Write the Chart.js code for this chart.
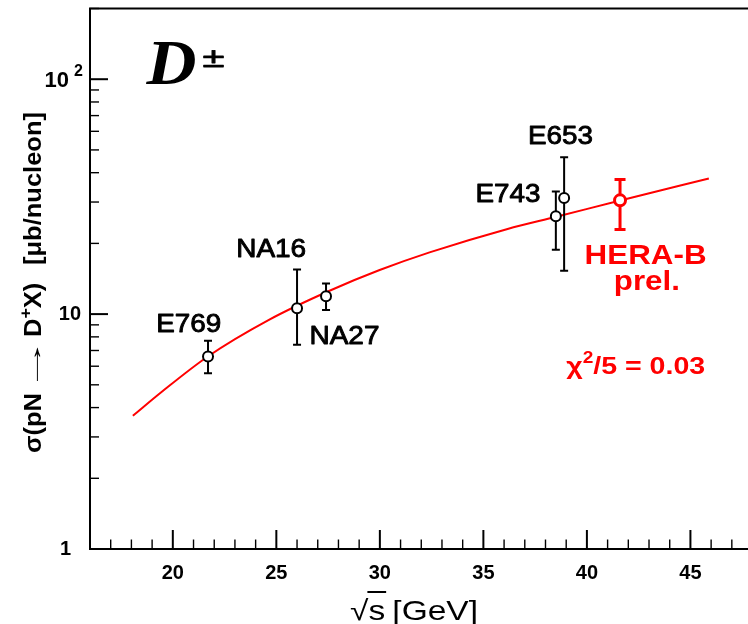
<!DOCTYPE html>
<html>
<head>
<meta charset="utf-8">
<script src="https://cdn.jsdelivr.net/npm/chart.js@4/dist/chart.umd.min.js"></script>
<style>
  html, body { margin: 0; padding: 0; background: #fff; overflow: hidden; }
  #wrap { width: 760px; height: 624px; }
</style>
</head>
<body>
<div id="wrap"><canvas id="c" width="760" height="624"></canvas></div>
<script>
// D+- production cross section in pN collisions vs sqrt(s)
const experiments = ['E769', 'NA16', 'NA27', 'E743', 'E653', 'HERA-B'];
const sqrtS      = [21.7, 26.0, 27.4, 38.5, 38.9, 41.6];   // GeV
const sigma      = [6.6, 10.6, 11.9, 26.1, 31.2, 30.5];    // microbarn / nucleon
const sigmaLow   = [5.6, 7.4, 10.4, 18.8, 15.3, 22.9];
const sigmaHigh  = [7.7, 15.5, 13.5, 33.3, 46.5, 37.4];

// QCD prediction (red curve)
const curveS     = [18.07, 19.47, 21.69, 24.62, 27.57, 29.99, 32.40, 36.17, 38.52, 41.61, 45.89];
const curveSigma = [3.69, 4.67, 6.60, 9.43, 12.57, 15.40, 18.31, 23.05, 25.97, 30.46, 37.79];

// axis ticks
const xMajorTicks = [20, 25, 30, 35, 40, 45];
const yTickValues = [1, 2, 3, 4, 5, 6, 7, 8, 9, 10, 20, 30, 40, 50, 60, 70, 80, 90, 100, 200];
const yMajorTicks = [1, 10, 100];
const yTickLabels = ['1', '10', '10'];
const yTickExponents = ['', '', '2'];

const FONT = "'Liberation Sans', Arial, Helvetica, sans-serif";
const SERIF = "'Liberation Serif', 'Times New Roman', serif";
const RED = '#ff0000';

// text annotations, anchored at (left, baseline) in data coordinates
const labelLayout = {
  'E769':   { x: 19.20, y: 8.37,  w: 65,  font: `26px ${FONT}`, weight: 0.9 },
  'NA16':   { x: 23.06, y: 17.49, w: 70,  font: `26px ${FONT}`, weight: 0.9 },
  'NA27':   { x: 26.60, y: 7.49,  w: 70,  font: `26px ${FONT}`, weight: 0.9 },
  'E743':   { x: 34.62, y: 29.97, w: 65,  font: `26px ${FONT}`, weight: 0.9 },
  'E653':   { x: 37.15, y: 53.2,  w: 65,  font: `26px ${FONT}`, weight: 0.9 },
  'HERA-B': { x: 39.89, y: 16.4,  w: 122, font: `bold 28px ${FONT}`, color: RED }
};

function pieceAdvance(ctx, p) {
  ctx.font = p.font;
  return ctx.measureText(p.t).width * (p.sx || 1) + (p.gap || 0);
}

// draw a run of text pieces starting at (x, y) on the baseline, optionally stretched to a width
function drawPieces(ctx, pieces, x, y, color, width, angle, weight) {
  const natural = pieces.reduce((s, p) => s + pieceAdvance(ctx, p), 0);
  const sx = width ? width / natural : 1;
  ctx.save();
  ctx.translate(x, y);
  if (angle) ctx.rotate(angle);
  ctx.scale(sx, 1);
  ctx.fillStyle = color;
  ctx.strokeStyle = color;
  ctx.lineJoin = 'round';
  ctx.textAlign = 'left';
  ctx.textBaseline = 'alphabetic';
  let cx = 0;
  const ext = [];
  for (const p of pieces) {
    ctx.font = p.font;
    const w = ctx.measureText(p.t).width * (p.sx || 1);
    ctx.save();
    ctx.translate(cx, p.dy || 0);
    ctx.scale(p.sx || 1, 1);
    ctx.fillText(p.t, 0, 0);
    if (weight) { ctx.lineWidth = weight; ctx.strokeText(p.t, 0, 0); }
    ctx.restore();
    ext.push([cx * sx, (cx + w) * sx]);
    cx += w + (p.gap || 0);
  }
  ctx.restore();
  return ext;
}

function drawErrorBars(chart) {
  const { ctx, scales: { x, y } } = chart;
  ctx.save();
  sqrtS.forEach((s, i) => {
    const red = experiments[i] === 'HERA-B';
    const px = x.getPixelForValue(s);
    const top = y.getPixelForValue(sigmaHigh[i]);
    const bot = y.getPixelForValue(sigmaLow[i]);
    const cap = red ? 5.5 : 4;
    ctx.strokeStyle = red ? RED : '#000';
    ctx.lineWidth = red ? 3 : 2;
    ctx.beginPath();
    ctx.moveTo(px, top); ctx.lineTo(px, bot);
    ctx.moveTo(px - cap, top); ctx.lineTo(px + cap, top);
    ctx.moveTo(px - cap, bot); ctx.lineTo(px + cap, bot);
    ctx.stroke();
  });
  ctx.restore();
}

const decorations = {
  id: 'decorations',
  beforeDatasetDraw(chart, args) {
    if (args.index === 0) drawErrorBars(chart);
  },
  afterDraw(chart) {
    const { ctx, chartArea: a, scales: { x, y } } = chart;
    ctx.save();

    // frame
    ctx.strokeStyle = '#000';
    ctx.lineWidth = 2;
    ctx.beginPath();
    ctx.moveTo(a.right + 5, a.top); ctx.lineTo(a.left, a.top);
    ctx.lineTo(a.left, a.bottom); ctx.lineTo(a.right + 5, a.bottom);
    ctx.stroke();

    // x tick marks, pointing into the frame
    x.ticks.forEach(t => {
      const px = x.getPixelForValue(t.value);
      const major = t.value % 5 === 0;
      ctx.lineWidth = major ? 2 : 1.4;
      ctx.beginPath();
      ctx.moveTo(px, a.bottom);
      ctx.lineTo(px, a.bottom - (major ? 19 : 9.5));
      ctx.stroke();
    });

    // y tick marks
    y.ticks.forEach(t => {
      const py = y.getPixelForValue(t.value);
      const major = yMajorTicks.includes(t.value);
      ctx.lineWidth = major ? 2 : 1.4;
      ctx.beginPath();
      ctx.moveTo(a.left, py);
      ctx.lineTo(a.left + (major ? 18 : 9), py);
      ctx.stroke();
    });

    // y tick labels
    ctx.fillStyle = '#000';
    ctx.textBaseline = 'middle';
    ctx.textAlign = 'right';
    yMajorTicks.forEach((v, i) => {
      const py = y.getPixelForValue(v);
      if (yTickExponents[i]) {
        ctx.font = `bold 22px ${FONT}`;
        ctx.fillText(yTickLabels[i], a.left - 21, py + 2);
        ctx.textAlign = 'left';
        ctx.font = `bold 16px ${FONT}`;
        ctx.fillText(yTickExponents[i], a.left - 16, py - 8);
        ctx.textAlign = 'right';
      } else {
        ctx.font = `bold 20px ${FONT}`;
        ctx.fillText(yTickLabels[i], a.left - (v === 1 ? 19 : 9), py);
      }
    });

    // y axis title
    const bold = `bold 23px ${FONT}`;
    drawPieces(ctx, [
      { t: 'σ(pN', font: bold },
      { t: '→', font: bold, sx: 2.2 },
      { t: 'D', font: bold },
      { t: '+', font: `bold 16px ${FONT}`, dy: -10 },
      { t: 'X)', font: bold, gap: 16 },
      { t: '[μb/nucleon]', font: bold }
    ], 41, 453, '#000', 341, -Math.PI / 2);

    // x axis title with the square-root bar
    const norm = `28px ${FONT}`;
    const ext = drawPieces(ctx, [
      { t: '√', font: norm },
      { t: 's', font: norm, gap: 6 },
      { t: '[GeV]', font: norm }
    ], 350, 620, '#000', 128);
    ctx.lineWidth = 2;
    ctx.beginPath();
    ctx.moveTo(350 + ext[0][1] - 1, 592);
    ctx.lineTo(350 + ext[1][1] + 1, 592);
    ctx.stroke();

    // experiment labels
    experiments.forEach(name => {
      const L = labelLayout[name];
      drawPieces(ctx, [{ t: name, font: L.font }], x.getPixelForValue(L.x), y.getPixelForValue(L.y),
        L.color || '#000', L.w, 0, L.weight);
    });
    drawPieces(ctx, [{ t: 'prel.', font: `bold 28px ${FONT}` }],
      x.getPixelForValue(41.30), y.getPixelForValue(12.63), RED, 66);

    // fit quality
    drawPieces(ctx, [
      { t: 'χ', font: `bold 24px ${FONT}` },
      { t: '2', font: `bold 16px ${FONT}`, dy: -11 },
      { t: '/5 = 0.03', font: `bold 24px ${FONT}` }
    ], x.getPixelForValue(39.0), y.getPixelForValue(5.585), RED, 139);

    // particle symbol
    drawPieces(ctx, [{ t: 'D', font: `italic bold 64px ${SERIF}` }],
      x.getPixelForValue(18.73), y.getPixelForValue(95.8), '#000', 50);
    drawPieces(ctx, [{ t: '±', font: `28px ${FONT}` }],
      x.getPixelForValue(21.43), y.getPixelForValue(113.1), '#000', 22, 0, 0.8);

    ctx.restore();
  }
};

new Chart(document.getElementById('c'), {
  type: 'scatter',
  data: {
    datasets: [
      {
        label: 'data',
        data: sqrtS.map((s, i) => ({ x: s, y: sigma[i] })),
        showLine: false,
        pointRadius: experiments.map(e => e === 'HERA-B' ? 5.5 : 5),
        pointBorderWidth: experiments.map(e => e === 'HERA-B' ? 3 : 2),
        pointBorderColor: experiments.map(e => e === 'HERA-B' ? RED : '#000'),
        pointBackgroundColor: '#fff'
      },
      {
        label: 'QCD',
        data: curveS.map((s, i) => ({ x: s, y: curveSigma[i] })),
        showLine: true,
        pointRadius: 0,
        borderColor: RED,
        borderWidth: 2,
        cubicInterpolationMode: 'monotone',
        fill: false
      }
    ]
  },
  options: {
    responsive: false,
    animation: false,
    events: [],
    layout: { padding: { top: 7, left: 0, right: 0, bottom: 0 } },
    plugins: { legend: { display: false }, tooltip: { enabled: false } },
    scales: {
      x: {
        type: 'linear',
        min: 16,
        max: 47.95,
        afterBuildTicks: s => {
          const t = [];
          for (let v = 16; v <= 47; v++) t.push({ value: v });
          s.ticks = t;
        },
        afterFit: s => { s.height = 75; },
        grid: { display: false, drawTicks: false },
        border: { display: false },
        ticks: {
          autoSkip: false,
          maxRotation: 0,
          padding: 12,
          color: '#000',
          font: { family: FONT, size: 20, weight: 'bold' },
          callback: v => xMajorTicks.includes(v) ? String(v) : ''
        }
      },
      y: {
        type: 'logarithmic',
        min: 1,
        max: 200,
        afterBuildTicks: s => { s.ticks = yTickValues.map(v => ({ value: v })); },
        afterFit: s => { s.width = 90; },
        grid: { display: false, drawTicks: false },
        border: { display: false },
        ticks: { display: false }
      }
    }
  },
  plugins: [decorations]
});
</script>
</body>
</html>
